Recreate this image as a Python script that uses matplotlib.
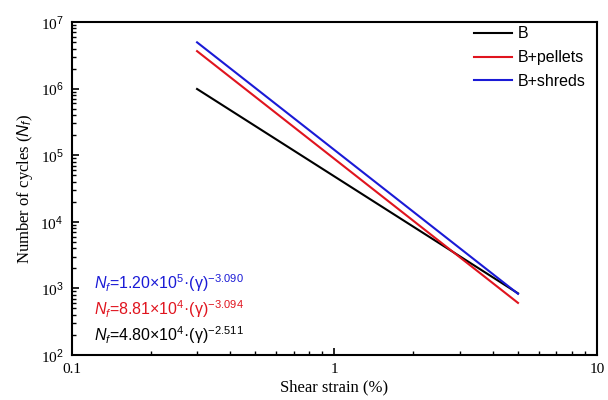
import matplotlib
matplotlib.use("Agg")
import matplotlib.pyplot as plt
from matplotlib.ticker import LogLocator, NullFormatter

strain = [0.3, 5.0]
n_b = [9.87e5, 843]
n_pellets = [3.65e6, 606]
n_shreds = [4.95e6, 830]
series_names = ["B", "B+pellets", "B+shreds"]
series_colors = ["black", "#e0141e", "#1a1ad6"]
equations = [
    ("$N_f$=1.20×10$^5$·(γ)$^{-3.090}$", "#1a1ad6"),
    ("$N_f$=8.81×10$^4$·(γ)$^{-3.094}$", "#e0141e"),
    ("$N_f$=4.80×10$^4$·(γ)$^{-2.511}$", "black"),
]

plt.rcParams['mathtext.fontset'] = 'custom'
plt.rcParams['mathtext.rm'] = 'Liberation Sans'
plt.rcParams['mathtext.it'] = 'Liberation Sans:italic'

fig = plt.figure(figsize=(6.08, 4.0), dpi=100)
ax = fig.add_axes([0.118, 0.1125, 0.864, 0.8325])

for y, name, c in zip([n_b, n_pellets, n_shreds], series_names, series_colors):
    ax.plot(strain, y, color=c, lw=1.5, label=name)

ax.set_xscale('log')
ax.set_yscale('log')
ax.set_xlim(0.1, 10)
ax.set_ylim(1e2, 1e7)

serif = 'Liberation Serif'
ax.tick_params(which='both', direction='in', top=False, right=False)
ax.tick_params(which='major', length=5, width=1.2, labelsize=11, pad=6)
ax.tick_params(which='minor', length=3, width=1)
ax.xaxis.set_major_locator(LogLocator(base=10, numticks=10))
ax.xaxis.set_minor_locator(LogLocator(base=10, subs=range(2, 10), numticks=10))
ax.yaxis.set_minor_locator(LogLocator(base=10, subs=range(2, 10), numticks=10))
ax.xaxis.set_minor_formatter(NullFormatter())
ax.yaxis.set_minor_formatter(NullFormatter())
ax.set_xticks([0.1, 1, 10])
ax.set_xticklabels(['0.1', '1', '10'], fontfamily=serif)
yt = [1e2, 1e3, 1e4, 1e5, 1e6, 1e7]
ax.set_yticks(yt)
ax.set_yticklabels([r'10$^{%d}$' % k for k in range(2, 8)], fontfamily=serif)

for s in ax.spines.values():
    s.set_linewidth(1.5)

ax.set_xlabel('Shear strain (%)', fontfamily=serif, fontsize=12, labelpad=2)
ax.set_ylabel(r'Number of cycles ($N_f$)', fontfamily=serif, fontsize=12, labelpad=4)

leg = ax.legend(loc='upper right', frameon=False, prop={'family': 'Liberation Sans', 'size': 11.5},
                handlelength=2.4, handletextpad=0.35, labelspacing=0.55,
                bbox_to_anchor=(1.005, 1.03))

for i, (txt, c) in enumerate(equations):
    ax.text(0.042, 0.215 - i * 0.077, txt, color=c, transform=ax.transAxes,
            fontsize=11.5, fontfamily='Liberation Sans', va='center', ha='left')

fig.savefig('out.png', dpi=100)
